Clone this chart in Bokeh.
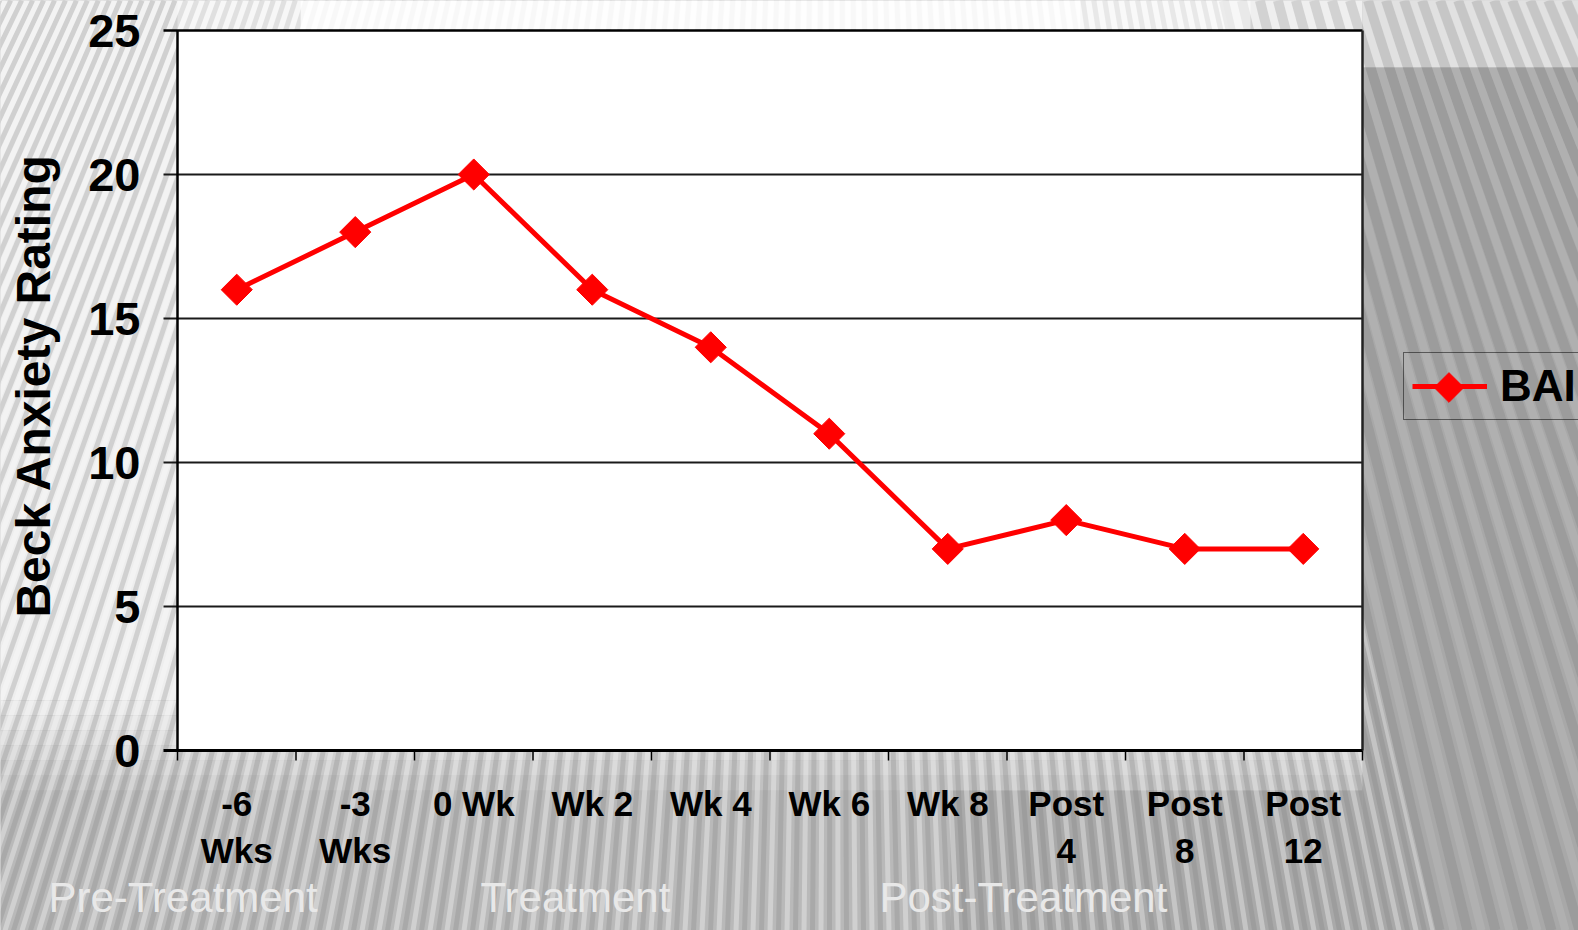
import numpy as np
from bokeh.plotting import figure
from bokeh.models import Range1d, Legend, LegendItem, ColumnDataSource
from bokeh.core.properties import value
from bokeh.embed import file_html
from bokeh.resources import INLINE

# ---------------- data ----------------
categories = ["-6 Wks", "-3 Wks", "0 Wk", "Wk 2", "Wk 4", "Wk 6", "Wk 8", "Post 4", "Post 8", "Post 12"]
label_line1 = ["-6", "-3", "0 Wk", "Wk 2", "Wk 4", "Wk 6", "Wk 8", "Post", "Post", "Post"]
label_line2 = ["Wks", "Wks", "", "", "", "", "", "4", "8", "12"]
bai = [16, 18, 20, 16, 14, 11, 7, 8, 7, 7]
y_ticks = [0, 5, 10, 15, 20, 25]
phase_labels = ["Pre-Treatment", "Treatment", "Post-Treatment"]
series_name = "BAI"
y_title = "Beck Anxiety Rating"

# ---------------- layout (pixels) ----------------
W, H = 1578, 930
PL, PR, PT, PB = 177, 1362, 30, 750
n = len(categories)
ymax = y_ticks[-1]
ux = (PR - PL) / n
uy = (PB - PT) / ymax

def fx(px):
    return (px - PL) / ux

def fy(py):
    return (PB - py) / uy

p = figure(width=W, height=H,
           x_range=Range1d(fx(0), fx(W)), y_range=Range1d(fy(H), fy(0)),
           x_axis_type=None, y_axis_type=None,
           output_backend="svg", toolbar_location=None, min_border=0)
p.outline_line_color = None
p.grid.visible = False
p.background_fill_color = "#b8b8b8"
p.border_fill_color = "#b8b8b8"

# ---------------- background ----------------
def rect(x0, y0, x1, y1, color, alpha=1.0):
    p.quad(left=[fx(x0)], right=[fx(x1)], top=[fy(y0)], bottom=[fy(y1)],
           fill_color=color, fill_alpha=alpha, line_color=None)

rect(0, 0, PR, 700, "#eeeeee")
band_cols = ["#e8e8e8", "#e1e1e1", "#d9d9d9", "#d1d1d1", "#c9c9c9", "#c1c1c1"]
for k, c in enumerate(band_cols):
    rect(0, 700 + 15 * k, PR, 715 + 15 * k, c)
rect(0, 790, 950, H, "#b9b9b9")
rect(950, 790, PR, H, "#a9a9a9")
rect(PR, 0, W, 67, "#dedede")
rect(PR, 67, W, H, "#a8a8a8")

vpx, vpy = 834.0, -1679.0
xb_left = np.arange(-480, 1439, 17.0)
xb_right = np.arange(1439, 2060, 28.0)

def stripes(xbs, offset, color, alpha, width):
    xs, ys = [], []
    t0 = (0 - vpy) / (H - vpy)
    for xb in xbs + offset:
        x_top = vpx + (xb - vpx) * t0
        xs.append([fx(x_top), fx(xb)])
        ys.append([fy(0), fy(H)])
    p.multi_line(xs, ys, line_color=color, line_alpha=alpha, line_width=width)

stripes(xb_left, 0.0, "#7a7a7a", 0.26, 5)
stripes(xb_left, 8.5, "#ffffff", 0.33, 5)
stripes(xb_right, 0.0, "#707070", 0.22, 10)
stripes(xb_right, 14.0, "#ffffff", 0.10, 8)

# fade the stripes in the bright band above the chart
rect(300, 0, 1080, 29, "#ffffff", 0.85)
rect(1080, 0, 1250, 29, "#ffffff", 0.5)
rect(177, 0, 300, 29, "#ffffff", 0.35)

# ---------------- plot area ----------------
p.quad(left=[0], right=[n], bottom=[0], top=[ymax], fill_color="white", line_color=None)

tick_len_x = 14 / ux
grid_vals = y_ticks[1:-1]
p.segment(x0=[-tick_len_x] * len(grid_vals), x1=[n] * len(grid_vals), y0=grid_vals, y1=grid_vals,
          line_color="#1a1a1a", line_width=2)
p.segment(x0=[-tick_len_x], x1=[n], y0=[ymax], y1=[ymax], line_color="black", line_width=2.5)
p.segment(x0=[n], x1=[n], y0=[0], y1=[ymax], line_color="#222222", line_width=2.5)
p.segment(x0=[0], x1=[0], y0=[0], y1=[ymax], line_color="black", line_width=2.5)
p.segment(x0=[-tick_len_x], x1=[n], y0=[0], y1=[0], line_color="black", line_width=3)
bounds = list(range(n + 1))
p.segment(x0=bounds, x1=bounds, y0=[0] * len(bounds), y1=[-10 / uy] * len(bounds),
          line_color="black", line_width=1.5)

# ---------------- series ----------------
src = ColumnDataSource(dict(x=[i + 0.5 for i in range(n)], y=bai, cat=categories))
line_r = p.line("x", "y", source=src, line_color="#ff0000", line_width=5)
mark_r = p.scatter("x", "y", source=src, marker="square", size=22, angle=np.pi / 4,
                   fill_color="#ff0000", line_color="#ff0000")

# ---------------- texts ----------------
FONT = value("Liberation Sans")
p.text(x=[fx(140)] * len(y_ticks), y=y_ticks, text=[str(t) for t in y_ticks],
       text_align="right", text_baseline="middle", text_font=FONT, text_font_style="bold",
       text_font_size="47px", text_color="black")

xc = [i + 0.5 for i in range(n)]
p.text(x=xc, y=[fy(803)] * n, text=label_line1, text_align="center", text_baseline="middle",
       text_font=FONT, text_font_style="bold", text_font_size="35px", text_color="black")
p.text(x=xc, y=[fy(850)] * n, text=label_line2, text_align="center", text_baseline="middle",
       text_font=FONT, text_font_style="bold", text_font_size="35px", text_color="black")

p.text(x=[fx(33)], y=[fy(385)], text=[y_title], angle=np.pi / 2, text_align="center",
       text_baseline="middle", text_font=FONT, text_font_style="bold",
       text_font_size="48px", text_color="black")

phase_x = [fx(48), fx(480), fx(879)]
p.text(x=phase_x, y=[fy(897)] * 3, text=phase_labels, text_align="left",
       text_baseline="middle", text_font=FONT, text_font_size="42px",
       text_color="#e8e8e8")

# ---------------- legend ----------------
LEG_L, LEG_B = 1403, 420
legend = Legend(items=[LegendItem(label=series_name, renderers=[line_r])],
                location=(LEG_L, H - LEG_B), margin=0, padding=8,
                glyph_width=75, glyph_height=50, label_standoff=13,
                label_text_font="Liberation Sans", label_text_font_style="bold",
                label_text_font_size="44px", label_text_color="black",
                border_line_color="black", border_line_width=1.5,
                background_fill_alpha=0.0)
p.add_layout(legend)
# diamond of the legend sample (the legend itself cannot rotate its marker)
p.scatter(x=[fx(LEG_L + 8 + 37.5)], y=[fy(LEG_B - 8 - 25)], marker="square", size=21,
          angle=np.pi / 4, fill_color="#ff0000", line_color="#ff0000")

open("out.html", "w").write(file_html(p, INLINE))
